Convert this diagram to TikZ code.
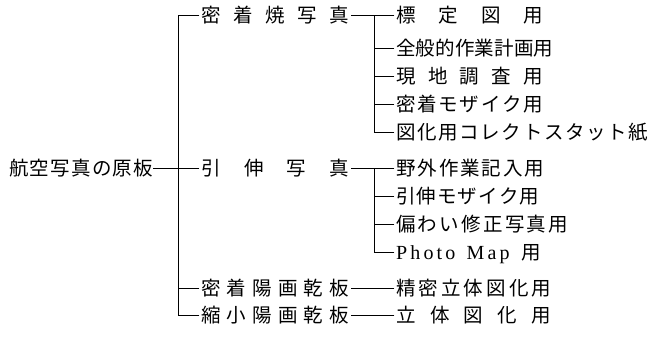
\documentclass[tikz,border=0pt]{standalone}
\usepackage{fontspec}
\newfontfamily\jp{Noto Sans CJK JP}
\newfontfamily\lat{Liberation Serif}
\newcommand\gx{\hfill}
\newcommand\lbl[2]{\makebox[#1pt][s]{#2}}
\begin{document}
\begin{tikzpicture}[x=1pt,y=-1pt,
  lab/.style={inner sep=0pt, anchor=west, font=\jp\fontsize{19.5}{19.5}\selectfont, text height=17.2pt, text depth=2.3pt},
  con/.style={line width=0.8pt, line cap=rect}]
\useasboundingbox (0,0) rectangle (653,343);
% root
\node[lab] (root) at (9,168) {\lbl{144}{航\gx 空\gx 写\gx 真\gx の\gx 原\gx 板}};
% level 1
\node[lab] (a1) at (201,15)  {\lbl{148}{密\gx 着\gx 焼\gx 写\gx 真}};
\node[lab] (a2) at (201,168) {\lbl{148}{引\gx 伸\gx 写\gx 真}};
\node[lab] (a3) at (201,288) {\lbl{148}{密\gx 着\gx 陽\gx 画\gx 乾\gx 板}};
\node[lab] (a4) at (201,315) {\lbl{148}{縮\gx 小\gx 陽\gx 画\gx 乾\gx 板}};
% level 2
\node[lab] (b1) at (396,15)  {\lbl{147}{標\gx 定\gx 図\gx 用}};
\node[lab] (b2) at (396,48)  {\lbl{157}{全\gx 般\gx 的\gx 作\gx 業\gx 計\gx 画\gx 用}};
\node[lab] (b3) at (396,76)  {\lbl{147}{現\gx 地\gx 調\gx 査\gx 用}};
\node[lab] (b4) at (396,104) {\lbl{147}{密\gx 着\gx モ\gx ザ\gx イ\gx ク\gx 用}};
\node[lab] (b5) at (396,132) {\lbl{252}{図\gx 化\gx 用\gx コ\gx レ\gx ク\gx ト\gx ス\gx タ\gx ッ\gx ト\gx 紙}};
\node[lab] (c1) at (396,168) {\lbl{148}{野\gx 外\gx 作\gx 業\gx 記\gx 入\gx 用}};
\node[lab] (c2) at (396,196) {\lbl{143}{引\gx 伸\gx モ\gx ザ\gx イ\gx ク\gx 用}};
\node[lab] (c3) at (396,224) {\lbl{172}{偏\gx わ\gx い\gx 修\gx 正\gx 写\gx 真\gx 用}};
\node[lab] (c4) at (396,252) {\lbl{145}{{\lat\fontsize{20}{20}\selectfont P\hfil h\hfil o\hfil t\hfil o\hskip 8pt plus 1fil M\hfil a\hfil p}\hskip 9pt plus 1fil 用}};
\node[lab] (d1) at (396,288) {\lbl{155}{精\gx 密\gx 立\gx 体\gx 図\gx 化\gx 用}};
\node[lab] (d2) at (396,315) {\lbl{155}{立\gx 体\gx 図\gx 化\gx 用}};
% buses
\coordinate (v1) at (178,0);
\coordinate (v2) at (374,0);
\draw[con] (root.east) -- (root.east -| v1);
\draw[con] (v1 |- a1.west) -- (v1 |- a4.west);
\foreach \n in {a1,a2,a3,a4} \draw[con,shorten >=2pt] (v1 |- \n.west) -- (\n.west);
\draw[con,shorten <=2pt,shorten >=2pt] (a1.east) -- (b1.west);
\draw[con,shorten <=2pt,shorten >=2pt] (a2.east) -- (c1.west);
\draw[con,shorten <=2pt,shorten >=2pt] (a3.east) -- (d1.west);
\draw[con,shorten <=2pt,shorten >=2pt] (a4.east) -- (d2.west);
\draw[con] (v2 |- b1.west) -- (v2 |- b5.west);
\foreach \n in {b2,b3,b4,b5} \draw[con,shorten >=2pt] (v2 |- \n.west) -- (\n.west);
\draw[con] (v2 |- c1.west) -- (v2 |- c4.west);
\foreach \n in {c2,c3,c4} \draw[con,shorten >=2pt] (v2 |- \n.west) -- (\n.west);
\end{tikzpicture}
\end{document}
